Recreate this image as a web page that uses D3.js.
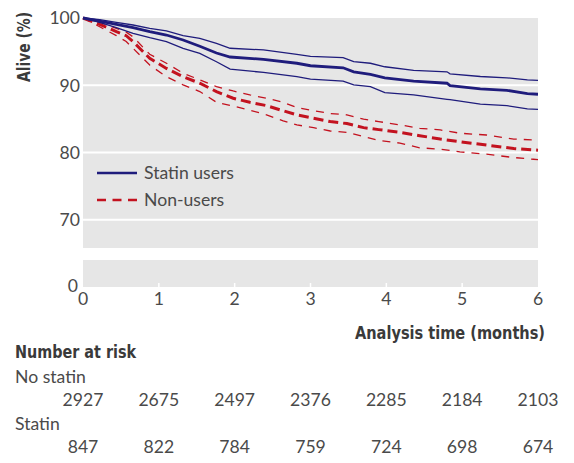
<!DOCTYPE html>
<html><head><meta charset="utf-8">
<script src="https://cdn.jsdelivr.net/npm/d3@7"></script>
<style>
body{margin:0;background:#fff;}
svg{display:block;}
.lbl{font-family:Lato,"Open Sans",sans-serif;fill:#4a4a4a;}
.bold{font-family:"Liberation Sans Narrow","DejaVu Sans Condensed",Roboto,sans-serif;font-weight:bold;fill:#3a3a3a;}
</style></head>
<body><svg id="c" width="574" height="463"></svg>
<script>
// ---- data ----
const statinTime  = [0,0.22,0.44,0.66,0.88,1.1,1.32,1.54,1.76,1.94,2.38,2.82,3.0,3.43,3.57,3.79,3.98,4.36,4.8,4.84,5.24,5.59,5.86,6.0];
const statinMain  = [100,99.55,99.06,98.56,97.97,97.47,96.73,95.8,94.8,94.2,93.86,93.27,92.9,92.6,92.0,91.6,91.1,90.6,90.3,89.94,89.45,89.25,88.75,88.66];
const statinUpper = [100,99.75,99.36,98.96,98.47,98.07,97.37,96.98,96.24,95.5,95.25,94.6,94.3,94.1,93.5,93.27,92.75,92.2,92.0,91.7,91.3,91.1,90.8,90.74];
const statinLower = [100,99.36,98.56,97.7,97.07,96.5,95.5,94.75,93.5,92.4,91.9,91.28,90.9,90.6,90.05,89.8,88.9,88.56,87.9,87.85,87.2,86.97,86.5,86.4];

const nonTime  = [0,0.22,0.44,0.57,0.66,0.88,1.1,1.32,1.54,1.76,1.98,2.2,2.42,2.64,2.82,3.04,3.26,3.48,3.70,3.9,4.18,4.44,4.71,4.97,5.32,5.68,5.94,6.0];
const nonMain  = [100,99.06,97.97,97.37,96.5,94.0,92.5,91.28,90.3,89.06,88.07,87.47,86.97,86.2,85.6,85.1,84.6,84.3,83.7,83.4,83.0,82.5,82.0,81.6,81.1,80.6,80.4,80.35];
const nonUpper = [100,99.36,98.47,97.9,97.2,94.6,93.27,91.8,90.8,89.8,89.15,88.56,88.07,87.47,86.67,86.2,85.8,85.6,84.95,84.6,84.1,83.6,83.36,82.87,82.6,82.0,81.87,81.85];
const nonLower = [100,98.7,97.37,96.5,95.5,93.0,91.28,90.05,89.06,87.47,86.9,86.3,85.6,84.7,84.1,83.7,83.2,83.0,82.36,81.8,81.4,80.7,80.5,80.1,79.75,79.25,79.0,78.95];

const xTicks = [0,1,2,3,4,5,6];
const yTicks = [100,90,80,70];
const riskNoStatin = [2927,2675,2497,2376,2285,2184,2103];
const riskStatin   = [847,822,784,759,724,698,674];
const legendLabels = ["Statin users","Non-users"];

// ---- layout ----
const svg = d3.select("#c");
const L = 83, R = 538;
const FS = 17.6;
const x = d3.scaleLinear().domain([0,6]).range([L,R]);
const y = d3.scaleLinear().domain([65.8,100]).range([248,18]);
const y0 = d3.scaleLinear().domain([0,4]).range([287,260]);
const navy = "#1f1c7c", red = "#c3121f";

svg.append("rect").attr("x",L).attr("y",y(100)).attr("width",R-L).attr("height",y(65.8)-y(100)).attr("fill","#e6e6e6");
svg.append("rect").attr("x",L).attr("y",y0(4)).attr("width",R-L).attr("height",y0(0)-y0(4)).attr("fill","#e6e6e6");

// gridlines
svg.selectAll(".grid").data(yTicks.filter(d=>d<100)).enter().append("line")
  .attr("x1",L).attr("x2",R).attr("y1",d=>y(d)).attr("y2",d=>y(d))
  .attr("stroke","#fff").attr("stroke-width",2);

// y tick labels
svg.selectAll(".yt").data(yTicks).enter().append("text").attr("class","lbl")
  .attr("x",80).attr("y",d=>y(d)).attr("dy","0.36em").attr("text-anchor","end")
  .attr("font-size",FS).text(d=>d);
svg.append("text").attr("class","lbl").attr("x",78).attr("y",y0(0)).attr("dy","0.3em")
  .attr("text-anchor","end").attr("font-size",FS).text("0");

// x ticks (white, inside lower panel)
svg.selectAll(".xtk").data(xTicks.filter(d=>d>0&&d<6)).enter().append("line")
  .attr("x1",d=>x(d)).attr("x2",d=>x(d)).attr("y1",y0(0)).attr("y2",y0(0)-4)
  .attr("stroke","#fff").attr("stroke-width",1.5);
svg.selectAll(".xt").data(xTicks).enter().append("text").attr("class","lbl")
  .attr("x",d=>x(d)).attr("y",305).attr("text-anchor","middle").attr("font-size",FS).text(d=>d);

// curves
const line = d3.line().x(d=>x(d[0])).y(d=>y(d[1]));
const zipT = (t,v)=>t.map((ti,i)=>[ti,v[i]]);
const g = svg.append("g").attr("fill","none");
g.append("path").attr("d",line(zipT(nonTime,nonUpper))).attr("stroke",red).attr("stroke-width",1.3).attr("stroke-dasharray","8,7");
g.append("path").attr("d",line(zipT(nonTime,nonLower))).attr("stroke",red).attr("stroke-width",1.3).attr("stroke-dasharray","8,7");
g.append("path").attr("d",line(zipT(nonTime,nonMain))).attr("stroke",red).attr("stroke-width",3).attr("stroke-dasharray","10,5");
g.append("path").attr("d",line(zipT(statinTime,statinUpper))).attr("stroke",navy).attr("stroke-width",1.3);
g.append("path").attr("d",line(zipT(statinTime,statinLower))).attr("stroke",navy).attr("stroke-width",1.3);
g.append("path").attr("d",line(zipT(statinTime,statinMain))).attr("stroke",navy).attr("stroke-width",2.8);

// legend
svg.append("line").attr("x1",97).attr("x2",137).attr("y1",173).attr("y2",173).attr("stroke",navy).attr("stroke-width",2.5);
svg.append("line").attr("x1",97).attr("x2",137).attr("y1",200).attr("y2",200).attr("stroke",red).attr("stroke-width",2.5).attr("stroke-dasharray","9,6.5");
svg.selectAll(".lg").data(legendLabels).enter().append("text").attr("class","lbl")
  .attr("x",144).attr("y",(d,i)=>173+i*27).attr("dy","0.36em").attr("font-size",FS).text(d=>d);

// axis titles
svg.append("text").attr("class","bold").attr("transform","translate(30,47) rotate(-90)")
  .attr("text-anchor","middle").attr("font-size",17).attr("textLength",70).attr("lengthAdjust","spacingAndGlyphs").text("Alive (%)");
svg.append("text").attr("class","bold").attr("x",545).attr("y",339).attr("text-anchor","end")
  .attr("font-size",17).attr("textLength",190).attr("lengthAdjust","spacingAndGlyphs").text("Analysis time (months)");

// number at risk
svg.append("text").attr("class","bold").attr("x",15).attr("y",358).attr("font-size",17)
  .attr("textLength",121).attr("lengthAdjust","spacingAndGlyphs").text("Number at risk");
svg.append("text").attr("class","lbl").attr("x",15).attr("y",383).attr("font-size",FS).text("No statin");
svg.selectAll(".r1").data(riskNoStatin).enter().append("text").attr("class","lbl")
  .attr("x",(d,i)=>x(xTicks[i])).attr("y",406).attr("text-anchor","middle").attr("font-size",FS).text(d=>d);
svg.append("text").attr("class","lbl").attr("x",15).attr("y",430).attr("font-size",FS).text("Statin");
svg.selectAll(".r2").data(riskStatin).enter().append("text").attr("class","lbl")
  .attr("x",(d,i)=>x(xTicks[i])).attr("y",453).attr("text-anchor","middle").attr("font-size",FS).text(d=>d);
</script></body></html>
